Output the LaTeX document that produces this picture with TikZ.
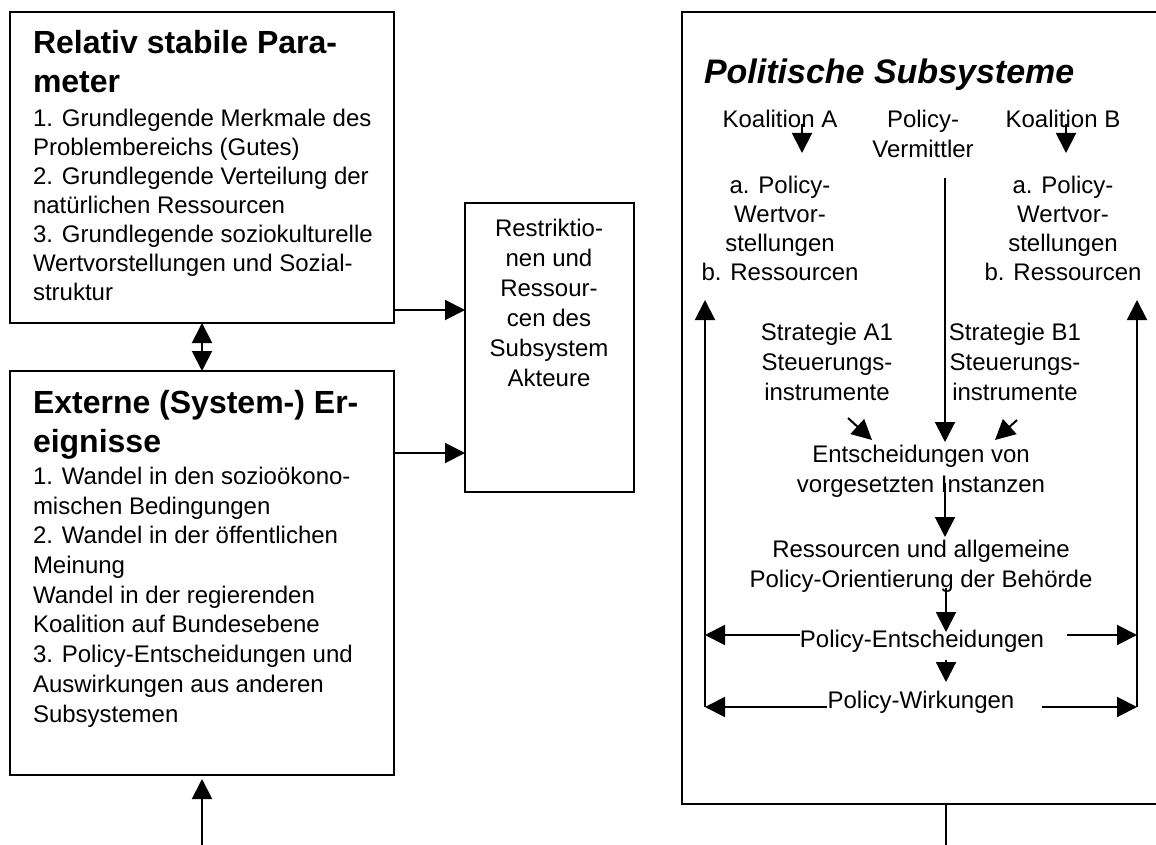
\documentclass[tikz,border=0pt]{standalone}
\usepackage{fontspec}
\setmainfont{Liberation Sans}
\usetikzlibrary{arrows.meta}
\begin{document}
\begin{tikzpicture}[x=1pt,y=-1pt,
  line width=2pt,
  box/.style={draw,line width=2pt,inner sep=0pt,outer sep=0pt},
  arr/.style={-{Triangle[length=20pt,width=20pt]}},
  darr/.style={{Triangle[length=20pt,width=20pt]}-{Triangle[length=20pt,width=20pt]}},
  txt/.style={inner sep=0pt,font=\fontsize{24}{29}\selectfont},
  head/.style={inner sep=0pt,font=\fontsize{32}{39}\selectfont\bfseries,align=left},
]
\useasboundingbox (0,0) rectangle (1156,845);

% boxes
\node[box,minimum width=384pt,minimum height=311pt,anchor=north west] (stab) at (10,12) {};
\node[box,minimum width=384pt,minimum height=404pt,anchor=north west] (ext) at (10,371) {};
\node[box,minimum width=169pt,minimum height=289pt,anchor=north west] (restr) at (465,203) {};
\node[box,minimum width=490pt,minimum height=792pt,anchor=north west] (sub) at (682,12) {};

% left texts (base anchor = baseline of last line)
\node[head,anchor=base west] (stabH) at (32,93) {Relativ stabile Para-\\meter};
\node[txt,align=left,anchor=base west] (stabT) at (32,300) {1. Grundlegende Merkmale des\\Problembereichs (Gutes)\\2. Grundlegende Verteilung der\\natürlichen Ressourcen\\3. Grundlegende soziokulturelle\\Wertvorstellungen und Sozial-\\struktur};
\node[head,anchor=base west] (extH) at (32,452) {Externe (System-) Er-\\eignisse};
\node[txt,align=left,anchor=base west,font=\fontsize{24}{29.7}\selectfont] (extT) at (32,722) {1. Wandel in den sozioökono-\\mischen Bedingungen\\2. Wandel in der öffentlichen\\Meinung\\Wandel in der regierenden\\Koalition auf Bundesebene\\3. Policy-Entscheidungen und\\Auswirkungen aus anderen\\Subsystemen};
\node[txt,align=center,anchor=base,font=\fontsize{24}{30}\selectfont] (restrT) at (549,386) {Restriktio-\\nen und\\Ressour-\\cen des\\Subsystem\\Akteure};

% left connectors
\path ([yshift=13pt]stab.south east) coordinate (s1);
\draw[arr] (s1) -- (s1 -| restr.west);
\path ([yshift=-82pt]ext.north east) coordinate (s2);
\draw[arr] (s2) -- (s2 -| restr.west);
\draw[darr] (stab.south) -- (ext.north);
\coordinate (botL) at (202,845);
\draw[arr] (botL) -- ([yshift=-4pt]ext.south);
\coordinate (botR) at (946,845);
\draw (botR) -- (botR |- sub.south);

% right texts
\node[anchor=base west,inner sep=0pt,font=\fontsize{34}{40}\selectfont\bfseries\itshape] (title) at (703,84) {Politische Subsysteme};
\node[txt,anchor=base] (kA) at (780,128) {Koalition A};
\node[txt,align=center,anchor=base,font=\fontsize{24}{30}\selectfont] (pv) at (923,158) {Policy-\\Vermittler};
\node[txt,anchor=base] (kB) at (1063,128) {Koalition B};
\node[txt,align=center,anchor=base,font=\fontsize{24}{28.7}\selectfont] (wA) at (780,280) {a. Policy-\\Wertvor-\\stellungen\\b. Ressourcen};
\node[txt,align=center,anchor=base,font=\fontsize{24}{28.7}\selectfont] (wB) at (1063,280) {a. Policy-\\Wertvor-\\stellungen\\b. Ressourcen};
\node[txt,align=center,anchor=base,font=\fontsize{24}{30}\selectfont] (sA) at (827,400) {Strategie A1\\Steuerungs-\\instrumente};
\node[txt,align=center,anchor=base,font=\fontsize{24}{30}\selectfont] (sB) at (1015,400) {Strategie B1\\Steuerungs-\\instrumente};
\node[txt,align=center,anchor=base,font=\fontsize{24}{30}\selectfont] (ent) at (921,492) {Entscheidungen von\\vorgesetzten Instanzen};
\node[txt,align=center,anchor=base,font=\fontsize{24}{30}\selectfont] (res) at (921,587) {Ressourcen und allgemeine\\Policy-Orientierung der Behörde};
\node[txt,anchor=base] (pe) at (922,647) {Policy-Entscheidungen};
\node[txt,anchor=base] (pw) at (921,708) {Policy-Wirkungen};

% right connectors
\draw[arr] ([xshift=22pt,yshift=4pt]kA.base) -- ([xshift=22pt,yshift=-25pt]kA.base);
\draw[arr] ([xshift=3pt,yshift=4pt]kB.base) -- ([xshift=3pt,yshift=-25pt]kB.base);
\coordinate (vmS) at (945,178);
\coordinate (vmE) at (945,442);
\draw[arr] (vmS) -- (vmE);
\coordinate (aS) at (848,418);
\coordinate (aE) at (872,440);
\draw[arr] (aS) -- (aE);
\coordinate (bS) at (1017,420);
\coordinate (bE) at (995,440);
\draw[arr] (bS) -- (bE);
\coordinate (e1) at (945,483);
\coordinate (e2) at (945,537);
\draw[arr] (e1) -- (e2);
\coordinate (r1) at (946,588);
\coordinate (r2) at (946,632);
\draw[arr] (r1) -- (r2);
\coordinate (p1) at (946,660);
\coordinate (p2) at (946,682);
\draw[arr] (p1) -- (p2);
\coordinate (lvB) at (705,707);
\coordinate (lvT) at (705,300);
\draw[arr] (lvB) -- (lvT);
\coordinate (rvB) at (1137,707);
\coordinate (rvT) at (1137,300);
\draw[arr] (rvB) -- (rvT);
\coordinate (peL) at (800,635);
\coordinate (peR) at (1067,635);
\draw[arr] (peL) -- (peL -| lvB);
\draw[arr] (peR) -- (peR -| rvB);
\coordinate (pwL) at (827,707);
\coordinate (pwR) at (1042,707);
\draw[arr] (pwL) -- (pwL -| lvB);
\draw[arr] (pwR) -- (pwR -| rvB);
\end{tikzpicture}
\end{document}
